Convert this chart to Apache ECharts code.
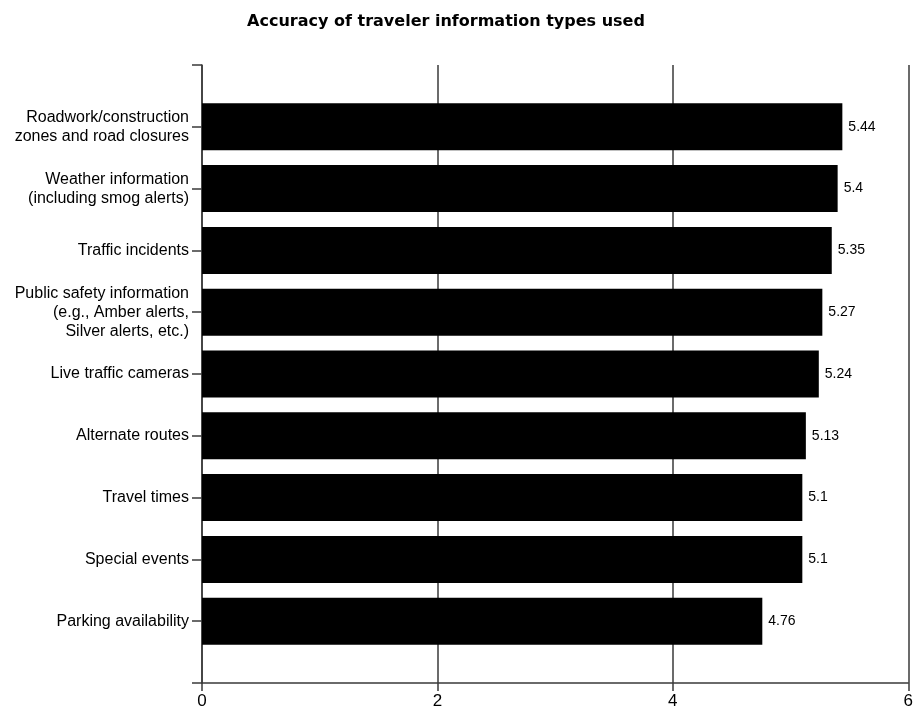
<!DOCTYPE html>
<html>
<head>
<meta charset="utf-8">
<script src="https://cdn.jsdelivr.net/npm/echarts@6/dist/echarts.min.js"></script>
<style>
  html, body { margin: 0; padding: 0; background: #fff; }
  #chart { width: 916px; height: 712px; }
</style>
</head>
<body>
<div id="chart"></div>
<script>
// Information types, top to bottom
const categories = [
  'Roadwork/construction\nzones and road closures',
  'Weather information\n(including smog alerts)',
  'Traffic incidents',
  'Public safety information\n(e.g., Amber alerts,\nSilver alerts, etc.)',
  'Live traffic cameras',
  'Alternate routes',
  'Travel times',
  'Special events',
  'Parking availability'
];
// Mean accuracy rating per type
const values = [5.44, 5.4, 5.35, 5.27, 5.24, 5.13, 5.1, 5.1, 4.76];
const xTicks = [0, 2, 4, 6];

// Pad the category axis with an empty slot at each end so the bars sit
// one full band away from the plot edges.
const yCats = [''].concat(categories, ['']);
const barData = [null].concat(values, [null]);

const FONT = '"Liberation Sans", Arial, sans-serif';
const TITLE_FONT = '"DejaVu Sans", Verdana, sans-serif';
const LINE = '#3a3a3a';

const chart = echarts.init(document.getElementById('chart'), null, { renderer: 'canvas' });
chart.setOption({
  animation: false,
  backgroundColor: '#ffffff',
  title: {
    text: 'Accuracy of traveler information types used',
    left: 446,
    textAlign: 'center',
    top: 9,
    textStyle: { fontFamily: TITLE_FONT, fontSize: 16, fontWeight: 'bold', color: '#000' }
  },
  grid: { left: 202, right: 6, top: 65, bottom: 29, containLabel: false },
  xAxis: {
    type: 'value',
    min: xTicks[0],
    max: xTicks[xTicks.length - 1],
    interval: 2,
    axisLine: { show: true, lineStyle: { color: LINE, width: 1.5 } },
    axisTick: { show: true, length: 8, lineStyle: { color: LINE, width: 1.5 } },
    axisLabel: { fontFamily: FONT, fontSize: 17, color: '#000', margin: 10 },
    splitLine: { show: true, lineStyle: { color: LINE, width: 1.5 } }
  },
  yAxis: {
    type: 'category',
    data: yCats,
    inverse: true,
    boundaryGap: false,
    axisLine: { show: true, lineStyle: { color: LINE, width: 1.5 } },
    axisTick: { show: true, length: 10, lineStyle: { color: LINE, width: 1.5 } },
    axisLabel: {
      fontFamily: FONT, fontSize: 16, color: '#000', margin: 13,
      lineHeight: 19, align: 'right'
    },
    splitLine: { show: false }
  },
  series: [{
    type: 'bar',
    data: barData,
    barWidth: 47,
    itemStyle: { color: '#000' },
    label: {
      show: true,
      position: 'right',
      distance: 6,
      fontFamily: FONT,
      fontSize: 14,
      color: '#000',
      formatter: p => String(p.value)
    },
    z: 3
  }]
});
// Nudge the title so its centre sits over the plot's visual middle
chart.setOption({ title: { left: 441 } });
</script>
</body>
</html>
